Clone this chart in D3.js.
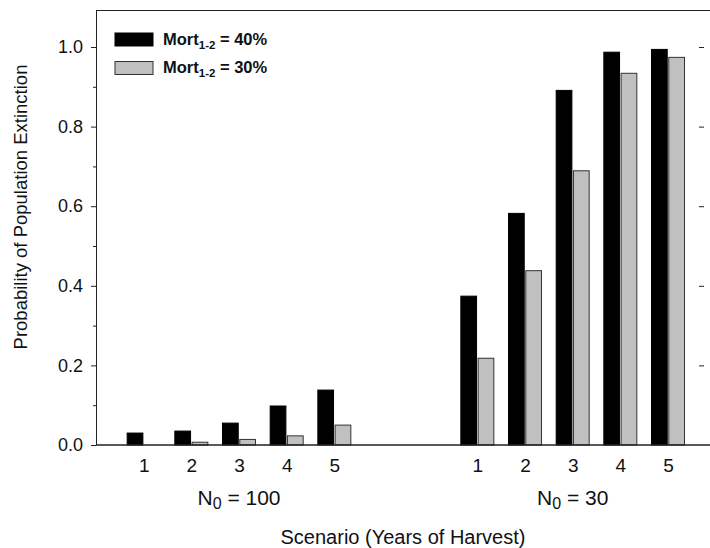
<!DOCTYPE html>
<html>
<head>
<meta charset="utf-8">
<script src="https://cdn.jsdelivr.net/npm/d3@7"></script>
<style>
  body { margin: 0; background: #fff; }
  text { font-family: "Liberation Sans", Arial, sans-serif; }
</style>
</head>
<body>
<div class="main"></div>
<script>
// Données
const scenarios = ['1', '2', '3', '4', '5'];
const groupN = ['100', '30'];
const seriesNames = ['40%', '30%'];
const mort40_n100 = [0.030, 0.035, 0.055, 0.098, 0.138];
const mort30_n100 = [0.000, 0.007, 0.014, 0.023, 0.050];
const mort40_n30 = [0.374, 0.582, 0.891, 0.987, 0.994];
const mort30_n30 = [0.218, 0.438, 0.689, 0.934, 0.974];
const yMajor = [0, 0.2, 0.4, 0.6, 0.8, 1.0];
const yMinor = [0.1, 0.3, 0.5, 0.7, 0.9];

// Paramètres
const width = 710;
const height = 548;
const margin = { top: 10, right: 1, bottom: 103, left: 96 };
const colors = ['#000000', '#c0c0c0'];
const strokes = ['#000000', '#333333'];

// table des barres : emplacement 0-4 pour N0=100, 7-11 pour N0=30
const table = [];
[[mort40_n100, mort30_n100], [mort40_n30, mort30_n30]].forEach((grp, g) => {
  grp.forEach((vals, s) => {
    vals.forEach((v, i) => {
      table.push({ slot: g * 7 + i, serie: seriesNames[s], s: s, value: v });
    });
  });
});
const slots = d3.range(12).filter(i => i < 5 || i > 6);

const svg = d3.select('.main')
  .append('svg')
  .attr('width', width)
  .attr('height', height);

const x = d3.scaleLinear()
  .domain([-1, 11.86])
  .range([margin.left, width - margin.right]);

const inner = d3.scaleBand()
  .domain(seriesNames)
  .range([-16.5, 16.5])
  .paddingInner(0.09);

const y = d3.scaleLinear()
  .domain([0, 1.093])
  .range([height - margin.bottom, margin.top]);

// barres
svg.append('g')
  .selectAll('rect')
  .data(table.filter(d => d.value > 0))
  .join('rect')
  .attr('x', d => x(d.slot) + inner(d.serie))
  .attr('width', inner.bandwidth())
  .attr('y', d => y(d.value))
  .attr('height', d => y(0) - y(d.value))
  .attr('fill', d => colors[d.s])
  .attr('stroke', d => strokes[d.s])
  .attr('stroke-width', 1);

// cadre haut
svg.append('line')
  .attr('x1', margin.left).attr('x2', width)
  .attr('y1', margin.top + 0.5).attr('y2', margin.top + 0.5)
  .attr('stroke', '#222');

// axe gauche
svg.append('g')
  .attr('transform', `translate(${margin.left},0)`)
  .call(d3.axisLeft(y).tickValues(yMajor).tickSize(5).tickPadding(8).tickFormat(d3.format('.1f')))
  .call(g => g.select('.domain').attr('stroke', '#222').attr('d', `M0.5,${margin.top}V${y(0)}`))
  .call(g => g.selectAll('.tick line').attr('stroke', '#222'))
  .call(g => g.selectAll('text').attr('font-size', 18).attr('fill', '#111').attr('font-family', '"Liberation Sans", Arial, sans-serif'));

svg.append('g')
  .attr('transform', `translate(${margin.left},0)`)
  .call(d3.axisLeft(y).tickValues(yMinor).tickSize(3).tickFormat(''))
  .call(g => g.select('.domain').remove())
  .call(g => g.selectAll('.tick line').attr('stroke', '#222'));

// ticks à droite
svg.append('g')
  .attr('transform', `translate(${width - 6},0)`)
  .call(d3.axisLeft(y).tickValues(yMajor.slice(1)).tickSize(5).tickFormat(''))
  .call(g => g.select('.domain').remove())
  .call(g => g.selectAll('.tick line').attr('stroke', '#222'));

// axe du bas
svg.append('g')
  .attr('transform', `translate(0,${y(0)})`)
  .call(d3.axisBottom(x).tickValues(slots).tickSize(0).tickPadding(14)
    .tickFormat(i => scenarios[i % 7]))
  .call(g => g.select('.domain').attr('stroke', '#222').attr('stroke-width', 1.6)
    .attr('d', `M${margin.left},0H${width}`))
  .call(g => g.selectAll('text').attr('font-size', 19).attr('fill', '#111').attr('font-family', '"Liberation Sans", Arial, sans-serif'));

// étiquettes N0
const nLab = svg.append('g')
  .selectAll('text')
  .data(groupN)
  .join('text')
  .attr('x', (d, g) => x(g * 7 + 2))
  .attr('y', 505)
  .attr('text-anchor', 'middle')
  .attr('font-size', 21)
  .attr('fill', '#111');
nLab.append('tspan').text('N');
nLab.append('tspan').attr('font-size', 16).attr('dy', 4).text('0');
nLab.append('tspan').attr('dy', -4).text(d => ` = ${d}`);

// titres des axes
svg.append('text')
  .attr('x', (margin.left + width) / 2)
  .attr('y', 544)
  .attr('text-anchor', 'middle')
  .attr('font-size', 20)
  .attr('fill', '#111')
  .text('Scenario (Years of Harvest)');

svg.append('text')
  .attr('transform', 'rotate(-90)')
  .attr('x', -207)
  .attr('y', 27)
  .attr('text-anchor', 'middle')
  .attr('font-size', 18.5)
  .attr('fill', '#111')
  .text('Probability of Population Extinction');

// légende
const leg = svg.append('g')
  .selectAll('g')
  .data(seriesNames)
  .join('g')
  .attr('transform', (d, i) => `translate(115,${33 + i * 28.5})`);

leg.append('rect')
  .attr('width', 38)
  .attr('height', 13)
  .attr('fill', (d, i) => colors[i])
  .attr('stroke', (d, i) => strokes[i]);

const lt = leg.append('text')
  .attr('x', 48)
  .attr('y', 11.5)
  .attr('font-size', 16.5)
  .attr('font-weight', 'bold')
  .attr('fill', '#111');
lt.append('tspan').text('Mort');
lt.append('tspan').attr('font-size', 11.5).attr('dy', 4).text('1-2');
lt.append('tspan').attr('dy', -4).text(d => ` = ${d}`);
</script>
</body>
</html>
